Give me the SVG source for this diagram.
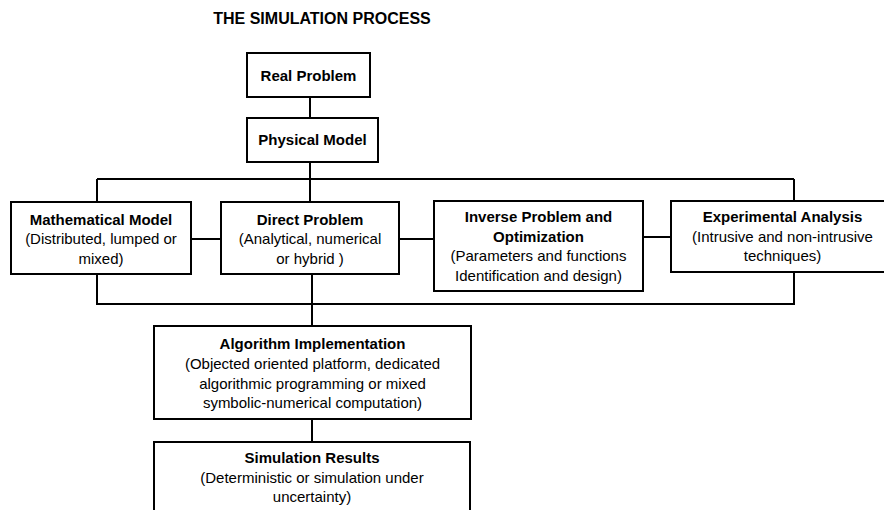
<svg xmlns="http://www.w3.org/2000/svg" width="884" height="510" viewBox="0 0 884 510">
<style>
.box{fill:#fff;stroke:#000;stroke-width:2}
.ln{fill:none;stroke:#000;stroke-width:2}
text{font-family:"Liberation Sans",Arial,sans-serif;font-size:15px;fill:#000;text-anchor:middle}
.b{font-weight:bold}
.t{font-size:16px;font-weight:bold}
</style>
<rect width="884" height="510" fill="#fff"/>
<text class="t" x="322" y="24">THE SIMULATION PROCESS</text>
<g id="connectors">
<path class="ln" d="M310 97V118M310 162V202M97 179H794M97 179V202M794 179V201M97 274V304H794V272M312 274V326M312 419V442M191 239H221M399 239H434M643 237H671"/>
</g>
<g id="real">
<rect class="box" x="247" y="53" width="123" height="44"/>
<text class="b" x="308.5" y="80.5">Real Problem</text>
</g>
<g id="physical">
<rect class="box" x="247" y="118" width="131" height="44"/>
<text class="b" x="312.5" y="145">Physical Model</text>
</g>
<g id="math">
<rect class="box" x="11" y="202" width="180" height="72"/>
<text class="b" x="101" y="224.5">Mathematical Model</text>
<text x="101" y="244">(Distributed, lumped or</text>
<text x="101" y="264">mixed)</text>
</g>
<g id="direct">
<rect class="box" x="221" y="202" width="178" height="72"/>
<text class="b" x="310" y="224.5">Direct Problem</text>
<text x="310" y="244">(Analytical, numerical</text>
<text x="310" y="264">or hybrid )</text>
</g>
<g id="inverse">
<rect class="box" x="434" y="201" width="209" height="90"/>
<text class="b" x="538.5" y="222">Inverse Problem and</text>
<text class="b" x="538.5" y="241.5">Optimization</text>
<text x="538.5" y="261">(Parameters and functions</text>
<text x="538.5" y="280.5">Identification and design)</text>
</g>
<g id="experimental">
<rect class="box" x="671" y="201" width="220" height="71"/>
<text class="b" x="782.5" y="222">Experimental Analysis</text>
<text x="782.5" y="241.5">(Intrusive and non-intrusive</text>
<text x="782.5" y="261">techniques)</text>
</g>
<g id="algorithm">
<rect class="box" x="154" y="326" width="317" height="93"/>
<text class="b" x="312.5" y="349">Algorithm Implementation</text>
<text x="312.5" y="369">(Objected oriented platform, dedicated</text>
<text x="312.5" y="388.5">algorithmic programming or mixed</text>
<text x="312.5" y="408">symbolic-numerical computation)</text>
</g>
<g id="results">
<rect class="box" x="154" y="442" width="316" height="80"/>
<text class="b" x="312" y="463">Simulation Results</text>
<text x="312" y="483">(Deterministic or simulation under</text>
<text x="312" y="502">uncertainty)</text>
</g>
</svg>
